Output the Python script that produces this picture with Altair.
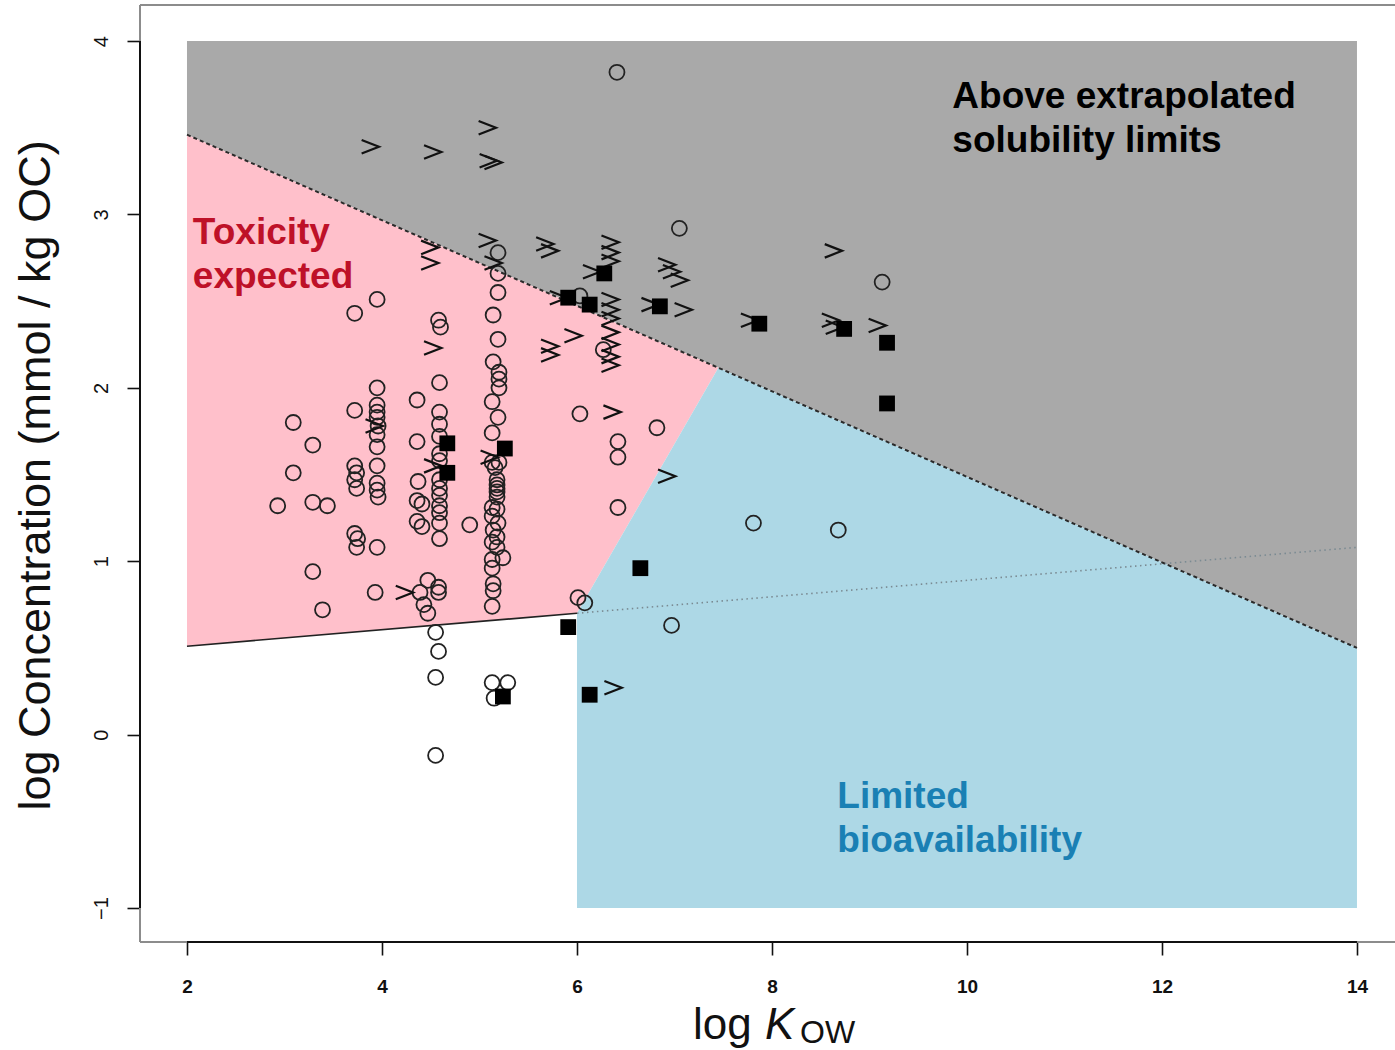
import altair as alt
import pandas as pd

# ---------------- data ----------------
circle_x = [2.93, 3.09, 3.29, 3.09, 3.29, 3.44, 3.29, 3.39,
            3.72, 3.72, 3.72, 3.74, 3.72, 3.74, 3.72, 3.75, 3.74,
            3.95, 3.95, 3.95, 3.95, 3.95, 3.96, 3.95, 3.95, 3.95, 3.95, 3.95, 3.96, 3.95, 3.93,
            4.36, 4.36, 4.37, 4.36, 4.41, 4.36, 4.41,
            4.47, 4.39, 4.58, 4.58, 4.43, 4.47, 4.55, 4.58, 4.55, 4.55,
            4.58, 4.60, 4.59, 4.59, 4.59, 4.59, 4.59, 4.59, 4.59, 4.59, 4.59, 4.59, 4.59, 4.59, 4.59,
            4.90,
            5.19, 5.19, 5.19, 5.14, 5.19, 5.14, 5.20, 5.20, 5.20, 5.13, 5.19, 5.13, 5.13, 5.16, 5.20,
            5.18, 5.18, 5.18, 5.18, 5.18, 5.13, 5.18, 5.13, 5.19, 5.14, 5.18, 5.13, 5.18, 5.24, 5.13,
            5.13, 5.14, 5.14, 5.13, 5.13, 5.29, 5.15,
            6.41, 7.05, 9.13, 6.03, 6.27, 6.03, 6.82, 6.42, 6.42, 6.42, 7.81, 8.68, 6.01, 6.08, 6.97]
circle_y = [1.32, 1.80, 1.67, 1.51, 1.34, 1.32, 0.94, 0.72,
            2.43, 1.87, 1.55, 1.51, 1.47, 1.42, 1.16, 1.13, 1.08,
            2.51, 2.00, 1.90, 1.86, 1.83, 1.78, 1.73, 1.66, 1.55, 1.45, 1.41, 1.37, 1.08, 0.82,
            1.93, 1.69, 1.46, 1.35, 1.33, 1.23, 1.20,
            0.89, 0.82, 0.85, 0.82, 0.75, 0.70, 0.59, 0.48, 0.33, -0.12,
            2.39, 2.35, 2.03, 1.86, 1.79, 1.72, 1.62, 1.58, 1.47, 1.42, 1.38, 1.32, 1.28, 1.22, 1.13,
            1.21,
            2.78, 2.66, 2.55, 2.42, 2.28, 2.15, 2.09, 2.05, 2.00, 1.92, 1.83, 1.74, 1.57, 1.54, 1.57,
            1.47, 1.42, 1.37, 1.44, 1.40, 1.31, 1.30, 1.26, 1.22, 1.18, 1.14, 1.11, 1.08, 1.02, 1.01,
            0.96, 0.87, 0.83, 0.74, 0.30, 0.30, 0.21,
            3.82, 2.92, 2.61, 2.53, 2.22, 1.85, 1.77, 1.69, 1.60, 1.31, 1.22, 1.18, 0.79, 0.76, 0.63]

square_x = [4.67, 4.67, 5.26, 5.24, 5.91, 6.13, 6.28, 6.85, 7.87, 8.74, 9.18, 9.18, 6.65, 5.91, 6.13]
square_y = [1.68, 1.51, 1.65, 0.22, 2.52, 2.48, 2.66, 2.47, 2.37, 2.34, 2.26, 1.91, 0.96, 0.62, 0.23]

gt_x = [3.88, 4.52, 5.08, 5.09, 5.14, 4.49, 4.49, 5.08, 5.14, 5.67, 5.72,
        6.34, 6.34, 6.34, 6.15, 6.92, 6.97, 7.05, 8.63, 5.81,
        6.34, 6.34, 6.34, 6.34, 6.34, 6.34, 6.34, 6.75, 7.09, 7.77, 8.60, 8.64, 9.08,
        5.96, 5.72, 5.72, 4.52, 6.36, 6.92, 6.37, 3.92, 4.52, 5.10, 4.23]
gt_y = [3.39, 3.36, 3.50, 3.31, 3.30, 2.81, 2.72, 2.85, 2.72, 2.83, 2.79,
        2.84, 2.78, 2.73, 2.67, 2.71, 2.67, 2.62, 2.79, 2.52,
        2.51, 2.45, 2.40, 2.32, 2.25, 2.18, 2.13, 2.48, 2.45, 2.39, 2.39, 2.35, 2.36,
        2.30, 2.24, 2.19, 2.23, 1.86, 1.49, 0.27, 1.78, 1.55, 1.60, 0.82]

# region boundaries
sol_x = [2, 14]
sol_y = [3.46, 0.50]
sol_top = [4, 4]
pink_x = [2, 6, 7.45]
pink_top = [3.46, 2.473, 2.116]
pink_bot = [0.51, 0.70, 2.116]
blue_x = [6, 7.45, 14]
blue_top = [0.70, 2.116, 0.50]
blue_bot = [-1, -1, -1]
low_x = [2, 6]
low_y = [0.51, 0.70]
dot_x = [6, 14]
dot_y = [0.70, 1.08]

label_text = ["Above extrapolated\nsolubility limits", "Toxicity\nexpected", "Limited\nbioavailability"]
label_x = [9.85, 2.06, 8.67]
label_y = [3.614, 2.829, -0.423]
label_color = ["#000000", "#BE1128", "#1A80B4"]

x_ticks = [2, 4, 6, 8, 10, 12, 14]
y_ticks = [-1, 0, 1, 2, 3, 4]

XDOM = [1.518, 14.39]
YDOM = [-1.196, 4.208]
W, H = 1255, 937
FONT = "Liberation Sans"

xs = alt.Scale(domain=XDOM, nice=False, zero=False)
ys = alt.Scale(domain=YDOM, nice=False, zero=False)

xaxis = alt.Axis(values=x_ticks, title=None, grid=False, domain=False, tickSize=13, tickWidth=1.6,
                 tickColor="#111", labelFont=FONT, labelFontSize=19, labelFontWeight="bold",
                 labelColor="#111", labelPadding=22, format="d")
yaxis = alt.Axis(values=y_ticks, grid=False, domain=False, tickSize=13, tickWidth=1.6,
                 tickColor="#111", labelFont=FONT, labelFontSize=20, labelColor="#111",
                 labelAngle=270, labelAlign="center", labelBaseline="bottom", labelPadding=16,
                 format="d",
                 title="log Concentration (mmol / kg OC)", titleFont=FONT, titleFontSize=45,
                 titleFontWeight="normal", titleColor="#111", titleAngle=270,
                 titleAlign="center", titleBaseline="middle", titleX=-105, titleY=470)


def X(f):
    return alt.X(f, type="quantitative", scale=xs, axis=xaxis)


def Y(f):
    return alt.Y(f, type="quantitative", scale=ys, axis=yaxis)


gray_df = pd.DataFrame({"x": sol_x, "y": sol_y, "y2": sol_top})
pink_df = pd.DataFrame({"x": pink_x, "y": pink_top, "y2": pink_bot})
blue_df = pd.DataFrame({"x": blue_x, "y": blue_top, "y2": blue_bot})

gray = alt.Chart(gray_df).mark_area(color="#A9A9A9", opacity=1).encode(x=X("x"), y=Y("y"), y2="y2")
pink = alt.Chart(pink_df).mark_area(color="#FFC0CB", opacity=1).encode(x=X("x"), y=Y("y"), y2="y2")
blue = alt.Chart(blue_df).mark_area(color="#ADD8E6", opacity=1).encode(x=X("x"), y=Y("y"), y2="y2")

sol_line = alt.Chart(pd.DataFrame({"x": sol_x, "y": sol_y})).mark_line(
    color="#2a2a2a", strokeWidth=2, strokeDash=[4, 3]).encode(x=X("x"), y=Y("y"))
low_line = alt.Chart(pd.DataFrame({"x": low_x, "y": low_y})).mark_line(
    color="#222", strokeWidth=1.6).encode(x=X("x"), y=Y("y"))
dot_line = alt.Chart(pd.DataFrame({"x": dot_x, "y": dot_y})).mark_line(
    color="#7a8a92", strokeWidth=1.6, strokeDash=[1.5, 3.5]).encode(x=X("x"), y=Y("y"))

circles = alt.Chart(pd.DataFrame({"x": circle_x, "y": circle_y})).mark_point(
    shape="circle", filled=False, size=225, color="#222", strokeWidth=1.8, opacity=1
).encode(x=X("x"), y=Y("y"))
gts = alt.Chart(pd.DataFrame({"x": gt_x, "y": gt_y})).mark_point(
    shape="M-1,-0.78L1,0L-1,0.78", filled=False, size=300, color="#111", strokeWidth=2.2, opacity=1
).encode(x=X("x"), y=Y("y"))
squares = alt.Chart(pd.DataFrame({"x": square_x, "y": square_y})).mark_point(
    shape="square", filled=True, size=250, color="#000", opacity=1
).encode(x=X("x"), y=Y("y"))

labels = alt.Chart(pd.DataFrame({"x": label_x, "y": label_y, "t": label_text, "c": label_color})).mark_text(
    align="left", baseline="alphabetic", font=FONT, fontSize=37, fontWeight="bold",
    lineBreak="\n", lineHeight=44
).encode(x=X("x"), y=Y("y"), text="t:N", color=alt.Color("c:N", scale=None))

# axis lines over tick range and the plot frame
axis_df = pd.DataFrame({"x": [XDOM[0]], "y": [YDOM[0]], "ya": [y_ticks[0]], "yb": [y_ticks[-1]],
                        "xa": [x_ticks[0]], "xb": [x_ticks[-1]]})
frame_left = alt.Chart(axis_df).mark_rule(color="#8c8c8c", strokeWidth=2).encode(
    x=alt.value(0), y=alt.value(0), y2=alt.value(H))
frame_top = alt.Chart(axis_df).mark_rule(color="#8c8c8c", strokeWidth=2).encode(
    x=alt.value(0), x2=alt.value(W), y=alt.value(0))
frame_bottom = alt.Chart(axis_df).mark_rule(color="#8c8c8c", strokeWidth=2).encode(
    x=alt.value(0), x2=alt.value(W), y=alt.value(H))
yaxis_line = alt.Chart(axis_df).mark_rule(color="#111", strokeWidth=2).encode(
    x=X("x"), y=Y("ya"), y2="yb")
xaxis_line = alt.Chart(axis_df).mark_rule(color="#111", strokeWidth=2).encode(
    y=Y("y"), x=X("xa"), x2="xb")

# x axis title: log K_OW
t_log = alt.Chart(axis_df).mark_text(align="left", baseline="alphabetic", font=FONT, fontSize=44,
                                     color="#111").encode(x=alt.value(553), y=alt.value(1034), text=alt.value("log"))
t_k = alt.Chart(axis_df).mark_text(align="left", baseline="alphabetic", font=FONT, fontSize=44,
                                   fontStyle="italic", color="#111").encode(
    x=alt.value(625), y=alt.value(1034), text=alt.value("K"))
t_ow = alt.Chart(axis_df).mark_text(align="left", baseline="alphabetic", font=FONT, fontSize=32,
                                    color="#111").encode(x=alt.value(660), y=alt.value(1038), text=alt.value("OW"))

chart = alt.layer(
    gray, pink, blue, sol_line, low_line, dot_line,
    circles, gts, squares, labels,
    frame_left, frame_top, frame_bottom, yaxis_line, xaxis_line,
    t_log, t_k, t_ow
).properties(
    width=W, height=H,
    padding={"left": 140, "top": 5, "right": 0, "bottom": 108},
    autosize=alt.AutoSizeParams(type="none"),
    background="white"
).configure_view(stroke=None)

chart.save("out.html", embed_options={"renderer": "svg", "actions": False})
